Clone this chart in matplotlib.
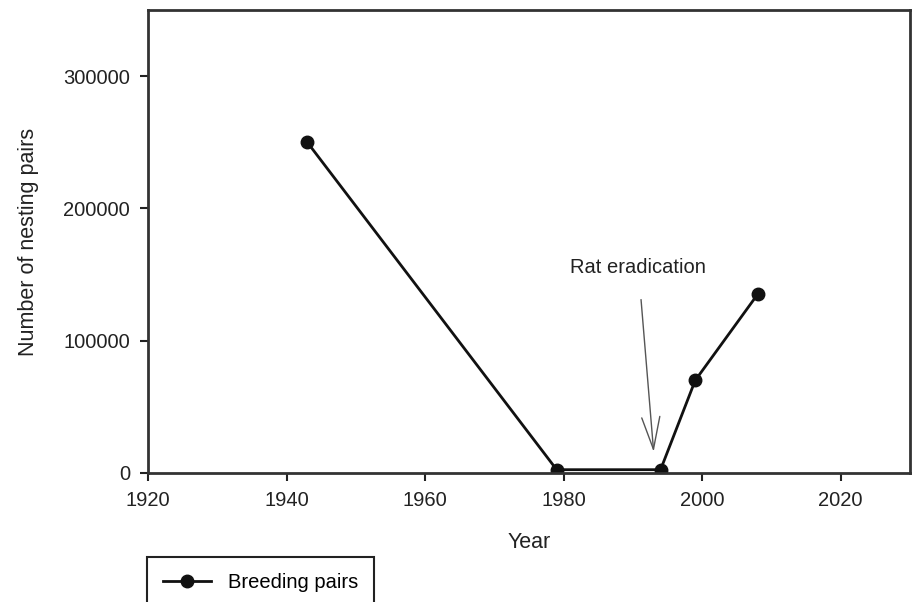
import matplotlib.pyplot as plt

plt.rcParams['font.family'] = ['Liberation Sans', 'DejaVu Sans']

years = [1943, 1979, 1994, 1999, 2008]
pairs = [250000, 2500, 2500, 70000, 135000]
x_ticks = [1920, 1940, 1960, 1980, 2000, 2020]
y_ticks = [0, 100000, 200000, 300000]

fig = plt.figure(figsize=(9.15, 6.02), dpi=100)
ax = fig.add_axes([0.1617, 0.2143, 0.8328, 0.7691])

ax.plot(years, pairs, color='#111111', linewidth=2, marker='o', markersize=9,
        label='Breeding pairs')

ax.set_xlim(1920, 2030)
ax.set_ylim(0, 350000)
ax.set_xticks(x_ticks)
ax.set_yticks(y_ticks)
ax.tick_params(direction='out', length=6, width=1.5, labelsize=14.5,
               colors='#222222', pad=7)

for s in ax.spines.values():
    s.set_linewidth(2)
    s.set_color('#333333')

ax.set_xlabel('Year', fontsize=15.5, color='#222222', labelpad=16)
ax.set_ylabel('Number of nesting pairs', fontsize=15.5, color='#222222', labelpad=17)

ax.annotate('Rat eradication', xy=(1993, 16000), xytext=(1990.8, 155000),
            ha='center', va='center', fontsize=14.5, color='#222222',
            arrowprops=dict(arrowstyle='->,head_length=1.6,head_width=0.45',
                            color='#555555', linewidth=1, shrinkA=14, shrinkB=0))

fig.legend(loc='upper left', bbox_to_anchor=(147 / 915, 1 - 557 / 602),
           fontsize=14.5, frameon=True, fancybox=False, edgecolor='#222222',
           borderpad=0.8, handlelength=2.4, borderaxespad=0,
           framealpha=1).get_frame().set_linewidth(1.5)

fig.savefig('out.png', dpi=100)
